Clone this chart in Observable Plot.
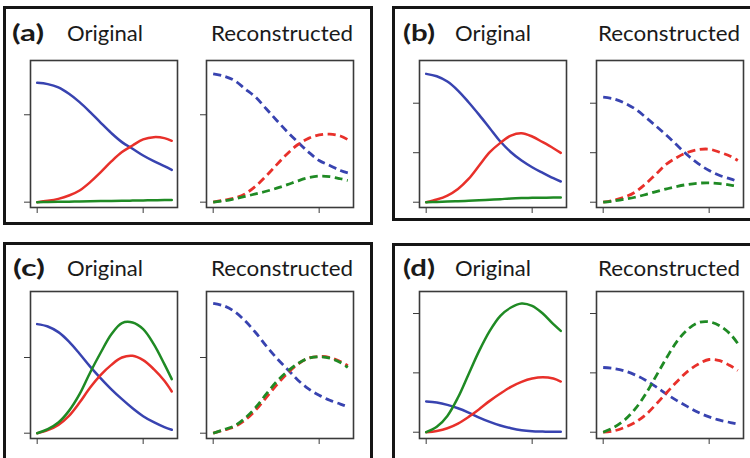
<!DOCTYPE html>
<html>
<head>
<meta charset="utf-8">
<script src="https://cdn.jsdelivr.net/npm/d3@7"></script>
<script src="https://cdn.jsdelivr.net/npm/@observablehq/plot@0.6"></script>
<style>
  html, body { margin: 0; padding: 0; background: #fff; }
  #root { position: relative; width: 750px; height: 458px; overflow: hidden; background: #fff; }
  .box { position: absolute; box-sizing: border-box; border: 3px solid #151515; }
  .sub { position: absolute; }
  #labels { position: absolute; left: 0; top: 0; }
</style>
</head>
<body>
<div id="root"></div>
<script>
// ---- data (x in tick units: ticks at 0 and 10) ----
const T = [0,1,2,3,4,5,6,7,8,9,10,11,12,12.7];
const xTicks = [0, 10];

// panel (a)
const aOrigBlue  = [1.366,1.351,1.313,1.240,1.145,1.031,0.908,0.790,0.687,0.611,0.534,0.469,0.412,0.370];
const aOrigRed   = [0,0.015,0.038,0.076,0.134,0.229,0.344,0.466,0.573,0.649,0.718,0.744,0.733,0.702];
const aOrigGreen = [0,0.002,0.004,0.006,0.008,0.010,0.012,0.014,0.016,0.018,0.020,0.022,0.024,0.025];
const aRecBlue   = [1.469,1.443,1.393,1.298,1.202,1.069,0.935,0.805,0.687,0.573,0.477,0.420,0.363,0.336];
const aRecRed    = [0,0.023,0.046,0.095,0.183,0.300,0.430,0.555,0.660,0.730,0.770,0.778,0.757,0.716];
const aRecGreen  = [0,0.015,0.038,0.065,0.095,0.125,0.160,0.200,0.244,0.280,0.298,0.292,0.268,0.248];
const aYTicks = [0, 1];
const aYDomain = [-0.061, 1.621];

// panel (b)
const bOrigBlue  = [2.593,2.545,2.438,2.256,2.020,1.764,1.495,1.226,1.010,0.842,0.707,0.593,0.485,0.418];
const bOrigRed   = [0,0.054,0.135,0.269,0.471,0.741,1.010,1.199,1.347,1.394,1.327,1.212,1.091,0.997];
const bOrigGreen = [0,0.005,0.012,0.020,0.030,0.040,0.050,0.062,0.075,0.083,0.088,0.091,0.093,0.094];
const bRecBlue   = [2.121,2.088,2.007,1.886,1.717,1.535,1.347,1.145,0.943,0.774,0.640,0.539,0.471,0.418];
const bRecRed    = [0,0.040,0.101,0.202,0.370,0.572,0.774,0.909,1.010,1.064,1.071,1.010,0.929,0.842];
const bRecGreen  = [0,0.025,0.058,0.100,0.155,0.215,0.270,0.320,0.360,0.385,0.390,0.375,0.345,0.320];
const bYTicks = [0, 1, 2];
const bYDomain = [-0.107, 2.863];

// panel (c)
const cOrigBlue  = [1.441,1.410,1.335,1.210,1.050,0.880,0.725,0.580,0.450,0.330,0.225,0.145,0.080,0.045];
const cOrigRed   = [0,0.040,0.110,0.229,0.405,0.604,0.771,0.903,1.000,1.022,0.965,0.846,0.692,0.551];
const cOrigGreen = [0,0.053,0.141,0.295,0.515,0.802,1.066,1.308,1.455,1.462,1.374,1.176,0.912,0.714];
const cRecBlue   = [1.714,1.683,1.608,1.485,1.330,1.154,0.991,0.846,0.700,0.585,0.500,0.435,0.385,0.350];
const cRecRed    = [0,0.040,0.084,0.172,0.304,0.471,0.639,0.789,0.912,0.991,1.013,1.000,0.947,0.890];
const cRecGreen  = [0,0.048,0.097,0.198,0.339,0.515,0.683,0.815,0.921,0.991,1.009,0.991,0.934,0.868];
const cYTicks = [0, 1];
const cYDomain = [-0.070, 1.872];

// panel (d)
const dOrigBlue  = [0.517,0.500,0.461,0.404,0.331,0.247,0.174,0.112,0.067,0.034,0.017,0.011,0.006,0.006];
const dOrigRed   = [0,0.022,0.067,0.146,0.258,0.388,0.528,0.652,0.764,0.848,0.904,0.927,0.904,0.854];
const dOrigGreen = [0,0.090,0.275,0.584,0.978,1.371,1.708,1.961,2.101,2.169,2.129,2.000,1.820,1.708];
const dRecBlue   = [1.090,1.073,1.034,0.966,0.876,0.764,0.640,0.528,0.427,0.331,0.258,0.202,0.163,0.135];
const dRecRed    = [0,0.022,0.079,0.163,0.292,0.472,0.669,0.860,1.030,1.150,1.225,1.205,1.120,1.040];
const dRecGreen  = [0,0.079,0.202,0.388,0.640,0.949,1.258,1.539,1.736,1.848,1.860,1.792,1.652,1.494];
const dYTicks = [0, 1, 2];
const dYDomain = [-0.106, 2.371];

const panelLabels = ["(a)", "(b)", "(c)", "(d)"];
const subTitles = ["Original", "Reconstructed"];

// ---- styling / layout ----
const COLORS = { blue: "#3843b0", red: "#e8302a", green: "#1f8a24" };
const FRAME = 147;
const ML = 12, MR = 3, MT = 3, MB = 10;
const X_DOMAIN = [-0.63, 13.24];

const root = document.getElementById("root");

function rows(blue, red, green) {
  const out = [];
  [["blue", blue], ["red", red], ["green", green]].forEach(([s, arr]) => {
    arr.forEach((v, i) => out.push({ t: T[i], v, s }));
  });
  return out;
}

function subplot(left, top, yDomain, yTicks, blue, red, green, dashed) {
  const data = rows(blue, red, green);
  const lineOpts = (s) => ({
    filter: d => d.s === s,
    x: "t", y: "v",
    stroke: COLORS[s],
    strokeWidth: dashed ? 2.8 : 2.5,
    curve: "catmull-rom",
    strokeDasharray: dashed ? "8,4.5" : null,
    strokeLinecap: dashed ? "butt" : "round"
  });
  const svg = Plot.plot({
    width: FRAME + ML + MR,
    height: FRAME + MT + MB,
    marginLeft: ML, marginRight: MR, marginTop: MT, marginBottom: MB,
    style: { background: "transparent", overflow: "visible" },
    x: { domain: X_DOMAIN, ticks: xTicks, tickSize: 6, tickFormat: () => "", label: null },
    y: { domain: yDomain, ticks: yTicks, tickSize: 6, tickFormat: () => "", label: null },
    marks: [
      Plot.line(data, lineOpts("blue")),
      Plot.line(data, lineOpts("red")),
      Plot.line(data, lineOpts("green")),
      Plot.frame({ stroke: "#3a3a3a", strokeWidth: 1.6 })
    ]
  });
  svg.classList.add("sub");
  svg.style.left = (left - ML) + "px";
  svg.style.top = (top - MT) + "px";
  svg.style.color = "#3a3a3a";
  root.appendChild(svg);
}

function box(l, t, w, h) {
  const d = document.createElement("div");
  d.className = "box";
  Object.assign(d.style, { left: l + "px", top: t + "px", width: w + "px", height: h + "px" });
  root.appendChild(d);
}

// outer panel boxes
box(3, 6, 370, 219);
box(392, 6, 370, 215);
box(3, 242, 370, 240);
box(392, 243, 370, 240);

// subplots
subplot(30, 60, aYDomain, aYTicks, aOrigBlue, aOrigRed, aOrigGreen, false);
subplot(206, 60, aYDomain, aYTicks, aRecBlue, aRecRed, aRecGreen, true);
subplot(419, 60, bYDomain, bYTicks, bOrigBlue, bOrigRed, bOrigGreen, false);
subplot(596, 60, bYDomain, bYTicks, bRecBlue, bRecRed, bRecGreen, true);
subplot(30, 291, cYDomain, cYTicks, cOrigBlue, cOrigRed, cOrigGreen, false);
subplot(206, 291, cYDomain, cYTicks, cRecBlue, cRecRed, cRecGreen, true);
subplot(419, 291, dYDomain, dYTicks, dOrigBlue, dOrigRed, dOrigGreen, false);
subplot(596, 291, dYDomain, dYTicks, dRecBlue, dRecRed, dRecGreen, true);

// titles
const NS = "http://www.w3.org/2000/svg";
const lab = document.createElementNS(NS, "svg");
lab.setAttribute("id", "labels");
lab.setAttribute("width", 750);
lab.setAttribute("height", 458);
root.appendChild(lab);
function txt(s, x, y, w, bold) {
  const e = document.createElementNS(NS, "text");
  e.textContent = s;
  e.setAttribute("x", x);
  e.setAttribute("y", y);
  e.setAttribute("font-family", "Lato, 'Open Sans', sans-serif");
  e.setAttribute("font-size", 22);
  e.setAttribute("fill", "#1a1a1a");
  if (bold) e.setAttribute("font-weight", "700");
  e.setAttribute("textLength", w);
  e.setAttribute("lengthAdjust", "spacingAndGlyphs");
  lab.appendChild(e);
}
const titlePos = [
  { lx: 12, ox: 67, rx: 211, y: 41 },
  { lx: 403, ox: 455, rx: 598, y: 41 },
  { lx: 13, ox: 67, rx: 211, y: 276 },
  { lx: 403, ox: 455, rx: 598, y: 276 }
];
titlePos.forEach((p, i) => {
  txt(panelLabels[i], p.lx, p.y, 32, true);
  txt(subTitles[0], p.ox, p.y, 76, false);
  txt(subTitles[1], p.rx, p.y, 142, false);
});
</script>
</body>
</html>
